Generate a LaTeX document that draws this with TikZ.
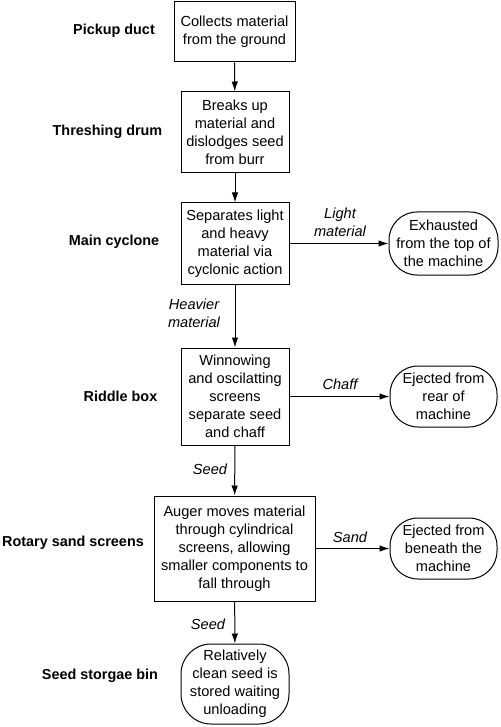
\documentclass[tikz,border=0pt]{standalone}
\usepackage{fontspec}
\setmainfont{Liberation Sans}
\usetikzlibrary{arrows.meta}
\begin{document}
\begin{tikzpicture}[x=1pt,y=-1pt,
  every node/.style={font=\fontsize{14.6}{18}\selectfont},
  procbox/.style={draw,line width=1pt,rectangle,align=center,inner sep=0pt},
  endbox/.style={draw,line width=1pt,rectangle,rounded corners=28pt,align=center,inner sep=0pt},
  stagelabel/.style={font=\fontsize{14.4}{16}\selectfont\bfseries},
  flowlabel/.style={font=\fontsize{14.6}{18}\selectfont\itshape,align=center},
  flow/.style={line width=1pt,-{Latex[length=10pt,width=6.5pt]}}]
\useasboundingbox (0,0) rectangle (500,727);
% process boxes
\node[procbox,minimum width=121pt,minimum height=60pt] (b1) at (234.5,32) {Collects material\\from the ground};
\node[procbox,minimum width=108pt,minimum height=81pt] (b2) at (235,132.5) {Breaks up\\material and\\dislodges seed\\from burr};
\node[procbox,minimum width=108pt,minimum height=81pt] (b3) at (235,243.5) {Separates light\\and heavy\\material via\\cyclonic action};
\node[procbox,minimum width=108pt,minimum height=97pt] (b4) at (235,396.5) {Winnowing\\and oscilatting\\screens\\separate seed\\and chaff};
\node[procbox,minimum width=161pt,minimum height=105pt] (b5) at (234.5,548.5) {Auger moves material\\through cylindrical\\screens, allowing\\smaller components to\\fall through};
\node[endbox,minimum width=108pt,minimum height=80pt,rounded corners=30pt] (b6) at (235,684) {Relatively\\clean seed is\\stored waiting\\unloading};
% end boxes on the right
\node[endbox,minimum width=109pt,minimum height=63pt] (e1) at (443.5,243.5) {Exhausted\\from the top of\\the machine};
\node[endbox,minimum width=107pt,minimum height=61pt] (e2) at (443.5,396.5) {Ejected from\\rear of\\machine};
\node[endbox,minimum width=107pt,minimum height=61pt] (e3) at (443.5,548.5) {Ejected from\\beneath the\\machine};
% stage labels
\node[stagelabel] (l1) at (114,30.5) {Pickup duct};
\node[stagelabel] (l2) at (107.5,132) {Threshing drum};
\node[stagelabel] (l3) at (114,241.5) {Main cyclone};
\node[stagelabel] (l4) at (120.5,396) {Riddle box};
\node[stagelabel] (l5) at (73,543) {Rotary sand screens};
\node[stagelabel] (l6) at (100,676) {Seed storgae bin};
% connectors
\draw[flow] (b1) -- (b2);
\draw[flow] (b2) -- (b3);
\draw[flow] (b3) -- (b4);
\draw[flow] (b4) -- (b5);
\draw[flow] (b5) -- (b6);
\draw[flow] (b3) -- (e1);
\draw[flow] (b4) -- (e2);
\draw[flow] (b5) -- (e3);
% flow labels
\node[flowlabel] (f1) at (340,222) {Light\\material};
\node[flowlabel] (f2) at (194,313.5) {Heavier\\material};
\node[flowlabel] (f3) at (340,384) {Chaff};
\node[flowlabel] (f4) at (210,469) {Seed};
\node[flowlabel] (f5) at (350,537) {Sand};
\node[flowlabel] (f6) at (208,624) {Seed};
\end{tikzpicture}
\end{document}
